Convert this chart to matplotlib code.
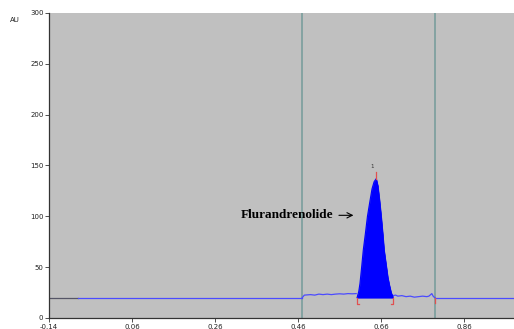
import matplotlib
matplotlib.use("Agg")
import matplotlib.pyplot as plt

# ---- data ----
xticks = [-0.14, 0.06, 0.26, 0.46, 0.66, 0.86]
xtick_labels = ["-0.14", "0.06", "0.26", "0.46", "0.66", "0.86"]
yticks = [0, 50, 100, 150, 200, 250, 300]

pre_t = [-0.14, -0.07]
pre_au = [20, 20]

flat1_t = [-0.07, 0.47]
flat1_au = [20, 20]

noise1_t = [0.47, 0.475, 0.49, 0.50, 0.51, 0.52, 0.53, 0.54, 0.55, 0.56, 0.57, 0.58, 0.59, 0.60]
noise1_au = [20, 22.5, 23, 22.5, 23.5, 23, 23.5, 23, 23.5, 23.8, 23.5, 24, 23.8, 24]

peak_t = [0.602, 0.606, 0.609, 0.613, 0.617, 0.622, 0.627, 0.633, 0.638, 0.643, 0.648,
          0.652, 0.656, 0.660, 0.664, 0.667, 0.672, 0.676, 0.680, 0.684, 0.688]
peak_au = [20, 26, 34, 50, 67, 83, 100, 115, 127, 134, 137,
           130, 116, 100, 82, 67, 52, 40, 32, 25, 21]

noise2_t = [0.688, 0.695, 0.70, 0.71, 0.72, 0.73, 0.74, 0.75, 0.76, 0.77, 0.775, 0.782, 0.786, 0.79]
noise2_au = [22, 22.5, 21.5, 22, 21, 21.5, 20.5, 21, 21.5, 21, 21.5, 24, 21, 20]

flat2_t = [0.79, 0.98]
flat2_au = [20, 20]

vlines_t = [0.47, 0.79]
peak_label = "1"
compound = "Flurandrenolide"

# ---- figure ----
fig = plt.figure(figsize=(5.14, 3.29), dpi=100)
ax = fig.add_axes([49/514, 11/329, 1 - 49/514, 307/329 - 2/329])
ax.set_facecolor("#c0c0c0")

ax.set_xlim(-0.14, 0.98)
ax.set_ylim(0, 300)

for v in vlines_t:
    ax.axvline(v, color="#7a9e9c", lw=1.2, zorder=1)

line_c = "#4b4bff"
ax.plot(pre_t, pre_au, color="#555566", lw=0.9, zorder=2)
ax.plot(flat1_t, flat1_au, color=line_c, lw=0.9, zorder=2)
ax.plot(noise1_t, noise1_au, color=line_c, lw=0.9, zorder=2)
ax.plot(noise2_t, noise2_au, color=line_c, lw=0.9, zorder=2)
ax.plot(flat2_t, flat2_au, color=line_c, lw=0.9, zorder=2)
ax.fill_between(peak_t, 20, peak_au, color="#0000ff", lw=0.5, edgecolor="#0000ff", zorder=3)
ax.plot(peak_t, peak_au, color="#0000ff", lw=0.8, zorder=3)

# integration markers
red = "#e05050"
t0, t1 = peak_t[0], peak_t[-1]
ax.plot([t0, t0, t0 + 0.004], [20, 14, 14], color=red, lw=0.9, zorder=4)
ax.plot([t1, t1, t1 - 0.004], [20, 14, 14], color=red, lw=0.9, zorder=4)
ax.plot([vlines_t[1], vlines_t[1]], [20, 15], color=red, lw=0.9, zorder=4)
pk_i = peak_au.index(max(peak_au))
ax.plot([peak_t[pk_i], peak_t[pk_i]], [max(peak_au), max(peak_au) + 7], color=red, lw=0.9, zorder=4)
ax.text(peak_t[pk_i] - 0.01, max(peak_au) + 10, peak_label, fontsize=4, color="#333333", ha="center", va="bottom")

ax.annotate(compound, xy=(0.600, 101), xytext=(0.545, 101),
            fontsize=9.5, fontweight="bold", family="Liberation Serif",
            ha="right", va="center",
            arrowprops=dict(arrowstyle="->", color="black", lw=0.8))

ax.set_xticks(xticks)
ax.set_xticklabels(xtick_labels)
ax.set_yticks(yticks)
ax.tick_params(axis="both", labelsize=5, length=3, width=0.6, color="#333333", labelcolor="#222222", pad=1)
for s in ["top", "right"]:
    ax.spines[s].set_visible(False)
for s in ["left", "bottom"]:
    ax.spines[s].set_color("#333333")
    ax.spines[s].set_linewidth(0.9)

fig.text(10/514, 1 - 20/329, "AU", fontsize=5, color="#222222", va="center")

fig.savefig("out.png", dpi=100)
